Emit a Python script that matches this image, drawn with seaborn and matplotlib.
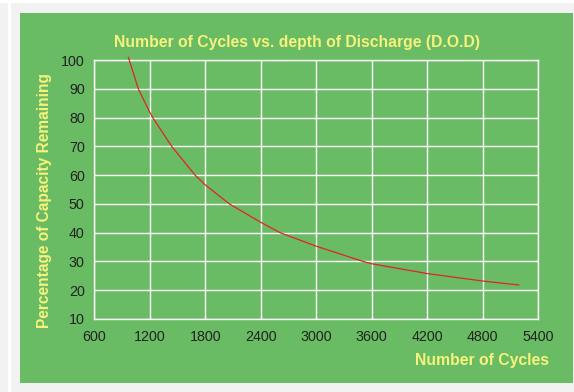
import matplotlib
matplotlib.use("Agg")
import matplotlib.pyplot as plt
from matplotlib.patches import Rectangle
import seaborn as sns
import pandas as pd

# Cycle life vs. remaining capacity
cycles = [967, 1075, 1200, 1231, 1436, 1689, 1800, 2060, 2400, 2608,
          3000, 3507, 3600, 4200, 4800, 5194]
capacity = [101.0, 90, 81.8, 80, 70, 60, 56.6, 50, 43.6, 40,
            35.3, 30, 29.2, 25.8, 23.2, 21.8]

x_ticks = [600, 1200, 1800, 2400, 3000, 3600, 4200, 4800, 5400]
y_ticks = [10, 20, 30, 40, 50, 60, 70, 80, 90, 100]

title = "Number of Cycles vs. depth of Discharge (D.O.D)"
x_label = "Number of Cycles"
y_label = "Percentage of Capacity Remaining"

GREEN = "#69bc63"
YELLOW = "#f7f27c"
PAGE = "#f2f2f2"
RED = "#e3212b"

sns.set_style("whitegrid", {
    "axes.facecolor": GREEN,
    "grid.color": "white",
    "axes.edgecolor": "white",
})
plt.rcParams["font.family"] = ["Liberation Sans", "DejaVu Sans"]

W, H = 574, 392
fig = plt.figure(figsize=(W / 100, H / 100), dpi=100, facecolor=PAGE)

def px_rect(x0, y0, x1, y1, color):
    fig.patches.append(Rectangle((x0 / W, 1 - y1 / H), (x1 - x0) / W, (y1 - y0) / H,
                                 transform=fig.transFigure, facecolor=color,
                                 edgecolor="none", zorder=-10))

# page frame and green panel
px_rect(0, 0, W, 3, "white")
px_rect(8, 0, 11, H, "white")
px_rect(20, 12.7, 572.7, 383.3, GREEN)

ax = fig.add_axes([94.4 / W, 1 - 319 / H, (538 - 94.4) / W, (319 - 60) / H])
df = pd.DataFrame({"cycles": cycles, "capacity": capacity})
sns.lineplot(data=df, x="cycles", y="capacity", color=RED, linewidth=0.9,
             ax=ax, clip_on=False, zorder=5)

ax.set_xlim(600, 5400)
ax.set_ylim(10, 100)
ax.set_xticks(x_ticks)
ax.set_yticks(y_ticks)
ax.grid(True, color="white", linewidth=1.0)
for s in ax.spines.values():
    s.set_color("white")
    s.set_linewidth(1.0)
ax.tick_params(axis="both", length=0, labelsize=10.3, labelcolor="#222222")
ax.tick_params(axis="x", pad=8)
ax.tick_params(axis="y", pad=7)
ax.set_xlabel("")
ax.set_ylabel("")

fig.text(297 / W, 1 - 42 / H, title, ha="center", va="center",
         color=YELLOW, fontsize=11.3, fontweight="bold")
fig.text(549 / W, 1 - 360 / H, x_label, ha="right", va="center",
         color=YELLOW, fontsize=11.3, fontweight="bold")
fig.text(45 / W, 1 - 201 / H, y_label, ha="center", va="center", rotation=90,
         color=YELLOW, fontsize=11.2, fontweight="bold")

fig.savefig("out.png", dpi=100, facecolor=PAGE)
